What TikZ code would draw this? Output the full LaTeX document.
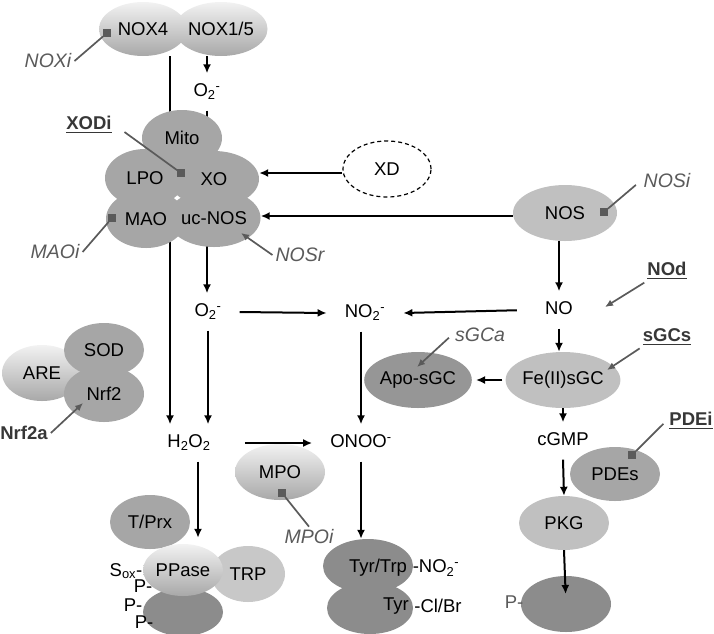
\documentclass[tikz,border=0pt]{standalone}
\usepackage{fontspec}
\setmainfont{Liberation Sans}
\usetikzlibrary{shapes.geometric,arrows.meta}
\definecolor{cloudc}{RGB}{166,166,166}
\definecolor{lightc}{RGB}{192,192,192}
\definecolor{light2}{RGB}{200,200,200}
\definecolor{darkc}{RGB}{150,150,150}
\definecolor{dark2}{RGB}{140,140,140}
\definecolor{gtop}{RGB}{242,242,242}
\definecolor{gbot}{RGB}{168,168,168}
\definecolor{labg}{RGB}{90,90,90}
\definecolor{boldc}{RGB}{55,55,55}
\definecolor{sqc}{RGB}{90,90,90}
\newcommand\myul[1]{\setbox0\hbox{#1}\rlap{\rule[-3.5pt]{\wd0}{1.5pt}}\box0}
\begin{document}
\begin{tikzpicture}[x=1pt,y=-1pt,
  font=\fontsize{18.5}{22}\selectfont,
  ell/.style={ellipse, inner sep=0pt, draw=none},
  grad/.style={top color=gtop, bottom color=gbot},
  sp/.style={inner xsep=18pt, inner ysep=10pt, text height=13pt, text depth=4pt},
  txt/.style={inner sep=0pt},
  arr/.style={line width=2pt, -{Latex[length=9pt,width=8pt]}},
  glab/.style={font=\fontsize{19.5}{22}\selectfont\itshape, text=labg, inner sep=3pt},
  blab/.style={font=\fontsize{18.5}{22}\selectfont\bfseries, text=boldc, inner sep=3pt},
  inh/.style={line width=1.7pt, draw=labg},
  garr/.style={line width=1.7pt, draw=labg, -{Latex[length=8pt,width=7pt]}},
  sq/.style={rectangle, fill=sqc, minimum size=7.5pt, inner sep=0pt}]
\useasboundingbox (0,0) rectangle (714,633);

% ---------- NOX ----------
\node[ell, grad, minimum width=88pt, minimum height=54pt] (nox4) at (143,29) {NOX4};
\node[ell, grad, minimum width=88pt, minimum height=54pt] (nox15) at (221,29) {NOX1/5};

% species texts
\node[sp] (o2a) at (207,92) {O\textsubscript{2}\textsuperscript{-}};
\node[sp] (o2b) at (208,312) {O\textsubscript{2}\textsuperscript{-}};
\node[sp] (no2) at (365,313) {NO\textsubscript{2}\textsuperscript{-}};
\node[sp] (h2o2) at (189,443) {H\textsubscript{2}O\textsubscript{2}};
\node[sp] (onoo) at (361,443) {ONOO\textsuperscript{-}};
\node[sp] (no) at (559,310) {NO};
\node[sp] (cgmp) at (563,441) {cGMP};

% long lines behind the cloud
\draw[arr] (o2a.north |- nox15.south) -- (o2a.north);
\draw[arr] ([xshift=27pt]nox4.south) -- ([xshift=27pt]nox4.south |- h2o2.north);
\draw[arr] (o2a.south) -- (o2a.south |- o2b.north);

% ---------- cloud ----------
\node[ell, fill=cloudc, minimum width=80pt, minimum height=56pt] (mito) at (182,138) {Mito};
\node[ell, fill=cloudc, minimum width=80pt, minimum height=58pt] (lpo) at (145,178) {LPO};
\node[ell, fill=cloudc, minimum width=90pt, minimum height=56pt] (xo) at (214,179) {XO};
\node[ell, fill=cloudc, minimum width=80pt, minimum height=58pt] (mao) at (146,219) {MAO};
\node[ell, fill=cloudc, minimum width=88pt, minimum height=58pt] (ucnos) at (214,218) {uc-NOS};

% ---------- XD, NOS ----------
\node[ell, draw, line width=1.2pt, dash pattern=on 4pt off 3pt, minimum width=88pt, minimum height=56pt] (xd) at (387,169) {XD};
\node[ell, fill=lightc, minimum width=104pt, minimum height=56pt] (nos) at (565,213) {NOS};
\draw[arr] ([yshift=-4pt]xd.west) -- ([yshift=-4pt]xd.west -| xo.east);
\draw[arr] ([yshift=-3pt]nos.west) -- ([yshift=-3pt]nos.west -| ucnos.east);

% ---------- sGC ----------
\node[ell, fill=lightc, minimum width=112pt, minimum height=56pt] (fesgc) at (563,380) {Fe(II)sGC};
\node[ell, fill=darkc, minimum width=104pt, minimum height=56pt] (apo) at (418,380) {Apo-sGC};
\node[ell, fill=cloudc, minimum width=90pt, minimum height=54pt] (pdes) at (615,474) {PDEs};
\node[ell, fill=lightc, minimum width=90pt, minimum height=54pt] (pkg) at (564,523) {PKG};
\node[ell, fill=dark2, minimum width=90pt, minimum height=56pt] (pbot) at (566,604) {};
\node[txt, text=labg] (pgray) at (514,602) {P-};

\draw[arr] (no.north |- nos.south) -- (no.north);
\draw[arr, shorten <=10pt] (no.west) -- (no2.east);
\draw[arr] (no.south) -- (no.south |- fesgc.north);
\draw[arr, shorten <=3pt, shorten >=4pt] (fesgc.west) -- (apo.east);
\draw[arr] (fesgc.south) -- (cgmp.north);
\draw[arr] (cgmp.south) -- (pkg.north);
\draw[arr, shorten >=10pt] (pkg.south) -- (pbot.center);

% ---------- middle ----------
\draw[arr] (o2b.east) -- (no2.west);
\draw[arr] (o2b.south) -- (o2b.south |- h2o2.north);
\draw[arr] (onoo.north |- no2.south) -- (onoo.north);
\draw[arr, shorten <=16pt] (h2o2.east) -- (onoo.west);

% ---------- ARE / SOD / Nrf2 ----------
\node[ell, grad, minimum width=80pt, minimum height=56pt] (are) at (42,373) {};
\node[ell, fill=cloudc, minimum width=80pt, minimum height=54pt] (sod) at (104,350) {SOD};
\node[ell, fill=cloudc, minimum width=80pt, minimum height=56pt] (nrf2) at (104,394) {Nrf2};
\node[txt] (aretxt) at (42,373) {ARE};

% ---------- MPO ----------
\node[ell, grad, minimum width=90pt, minimum height=56pt] (mpo) at (280,472) {MPO};

% ---------- T/Prx, PPase group ----------
\node[ell, fill=cloudc, minimum width=80pt, minimum height=54pt] (tprx) at (150,522) {T/Prx};
\node[ell, fill=dark2, minimum width=80pt, minimum height=48pt] (ppbot) at (183,612) {};
\node[txt] (sox) at (126,571) {S\textsubscript{ox}-};
\node[txt] (p1) at (143,586) {P-};
\node[ell, fill=light2, minimum width=74pt, minimum height=56pt] (trp) at (248,574) {TRP};
\node[ell, grad, minimum width=80pt, minimum height=52pt] (ppase) at (183,570) {PPase};
\node[txt] (p2) at (133,605) {P-};
\node[txt] (p3) at (144,622) {P-};
\draw[arr, shorten >=6pt] ([xshift=9pt]h2o2.south) -- ([xshift=9pt]h2o2.south |- ppase.north);

% ---------- Tyr group ----------
\node[ell, fill=dark2, minimum width=86pt, minimum height=52pt] (tyr2) at (370,608) {};
\node[ell, fill=dark2, minimum width=90pt, minimum height=54pt] (tyr1) at (368,566) {};
\node[txt] (tyrtrp) at (378,568) {Tyr/Trp};
\node[txt] (tyrno) at (436,568) {-NO\textsubscript{2}\textsuperscript{-}};
\node[txt] (tyr) at (396,606) {Tyr};
\node[txt] (tyrcl) at (438,606) {-Cl/Br};
\draw[arr] (onoo.south) -- (onoo.south |- tyr1.north);

% ---------- inhibitors ----------
\node[glab] (noxi) at (48,61) {NOXi};
\node[sq] (sqnox) at (107,33) {};
\draw[inh] (noxi.east) -- (sqnox);

\node[blab] (xodi) at (89,125) {\myul{XODi}};
\node[sq] (sqxo) at (181,173) {};
\draw[inh, shorten <=12pt] (xodi.east) -- (sqxo);

\node[glab] (maoi) at (55,252) {MAOi};
\node[sq] (sqmao) at (112,218) {};
\draw[inh] (maoi.east) -- (sqmao);

\node[glab] (nosi) at (667,181) {NOSi};
\node[sq] (sqnos) at (604,212) {};
\draw[inh, shorten <=6pt] (nosi.west) -- (sqnos);

\node[glab] (mpoi) at (309,537) {MPOi};
\node[sq] (sqmpo) at (282,493) {};
\draw[inh] (mpoi.north) -- (sqmpo);

\node[blab] (pdei) at (691,421) {\myul{PDEi}};
\node[sq] (sqpde) at (632,455) {};
\draw[inh, shorten <=4pt] (pdei.west) -- (sqpde);

% ---------- gray activating arrows ----------
\node[glab] (nosr) at (300,255) {NOSr};
\coordinate (tnosr) at (241,233);
\draw[garr] (nosr.west) -- (tnosr);

\node[blab] (nod) at (667,271) {\myul{NOd}};
\coordinate (tnod) at (605,307);
\draw[garr] (nod.south west) -- (tnod);

\node[blab] (sgcs) at (667,337) {\myul{sGCs}};
\coordinate (tsgcs) at (607,370);
\draw[garr] (sgcs.south west) -- (tsgcs);

\node[glab] (sgca) at (480,335) {sGCa};
\coordinate (tsgca) at (417,367);
\draw[garr, shorten <=4pt] (sgca.west) -- (tsgca);

\node[blab] (nrf2a) at (24,433) {Nrf2a};
\coordinate (tnrf2a) at (83,403);
\draw[garr] (nrf2a.east) -- (tnrf2a);
\end{tikzpicture}
\end{document}
